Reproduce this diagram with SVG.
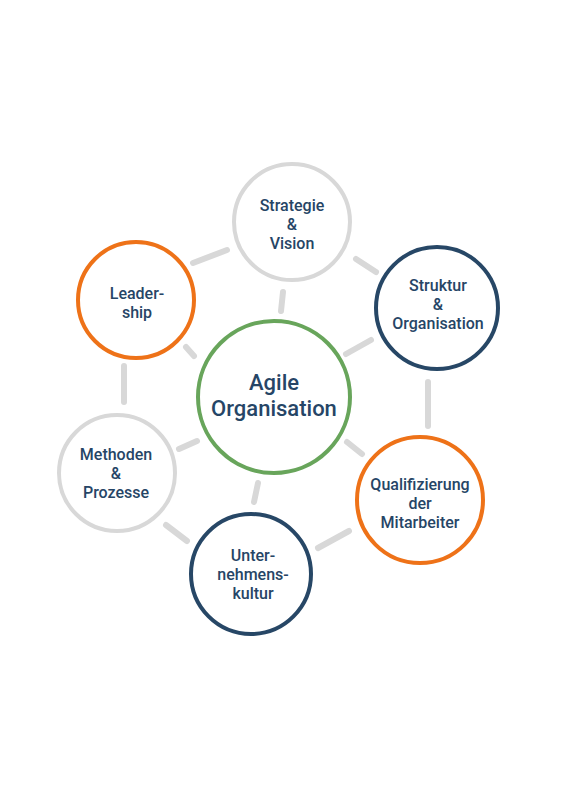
<svg xmlns="http://www.w3.org/2000/svg" width="566" height="800" viewBox="0 0 566 800">
<style>
.bg{fill:#ffffff}
.n{fill:#ffffff;stroke-width:4}
.gray{stroke:#D8D8D8}
.orange{stroke:#EE7218}
.navy{stroke:#274766}
.green{stroke:#68A55B}
.t{font-family:Roboto,"Noto Sans",sans-serif;font-weight:500;font-size:16px;fill:#264566;text-anchor:middle}
.big{font-size:22px}
.c line{stroke:#D8D8D8;stroke-width:6;stroke-linecap:round}
</style>
<rect class="bg" x="0" y="0" width="566" height="800"/>
<g id="connectors" class="c">
<line x1="193" y1="263" x2="227" y2="250"/>
<line x1="356" y1="259" x2="376" y2="272"/>
<line x1="283" y1="292" x2="281" y2="311"/>
<line x1="186" y1="347" x2="194" y2="356"/>
<line x1="346" y1="354" x2="371" y2="340"/>
<line x1="428" y1="382" x2="428" y2="426"/>
<line x1="347" y1="442" x2="362" y2="454"/>
<line x1="124" y1="366" x2="124" y2="402"/>
<line x1="179" y1="449" x2="197" y2="441"/>
<line x1="258" y1="483" x2="254" y2="502"/>
<line x1="166" y1="525" x2="187" y2="541"/>
<line x1="318" y1="548" x2="349" y2="531"/>
</g>
<g id="agile">
<circle class="n green" cx="274" cy="397" r="76"/>
<text class="t big" x="274" y="390">Agile</text>
<text class="t big" x="274" y="416">Organisation</text>
</g>
<g id="strategie">
<circle class="n gray" cx="292" cy="222" r="58"/>
<text class="t" x="292" y="211">Strategie</text>
<text class="t" x="292" y="230">&amp;</text>
<text class="t" x="292" y="249">Vision</text>
</g>
<g id="leadership">
<circle class="n orange" cx="136" cy="300" r="58"/>
<text class="t" x="137" y="299">Leader-</text>
<text class="t" x="137" y="318">ship</text>
</g>
<g id="struktur">
<circle class="n navy" cx="437" cy="308" r="61"/>
<text class="t" x="438" y="291">Struktur</text>
<text class="t" x="438" y="310">&amp;</text>
<text class="t" x="438" y="329">Organisation</text>
</g>
<g id="qualifizierung">
<circle class="n orange" cx="420" cy="500" r="63"/>
<text class="t" x="420" y="490">Qualifizierung</text>
<text class="t" x="420" y="509">der</text>
<text class="t" x="420" y="528">Mitarbeiter</text>
</g>
<g id="methoden">
<circle class="n gray" cx="117" cy="473" r="58"/>
<text class="t" x="116" y="460">Methoden</text>
<text class="t" x="116" y="479">&amp;</text>
<text class="t" x="116" y="498">Prozesse</text>
</g>
<g id="unternehmenskultur">
<circle class="n navy" cx="251" cy="574" r="60"/>
<text class="t" x="253" y="561">Unter-</text>
<text class="t" x="253" y="580">nehmens-</text>
<text class="t" x="253" y="599">kultur</text>
</g>
</svg>
